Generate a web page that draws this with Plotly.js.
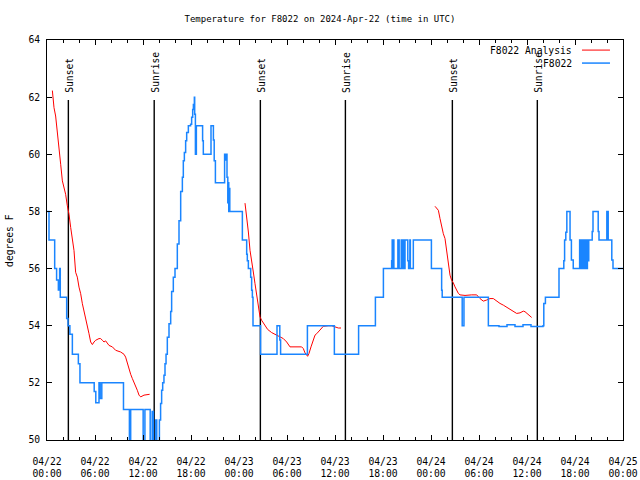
<!DOCTYPE html>
<html><head><meta charset="utf-8">
<script src="https://cdn.plot.ly/plotly-3.0.1.min.js"></script>
<style>html,body{margin:0;padding:0;background:#fff}#chart{width:640px;height:480px}</style>
</head><body><div id="chart"></div>
<script>
// Observations (hours since 2024-04-22 00:00 UTC, degrees F)
const obsHours = [0.0,0.2,0.25,0.9,0.96,1.15,1.2,1.38,1.42,1.55,1.58,1.62,1.66,2.42,2.46,2.6,2.63,2.82,2.86,3.12,3.17,3.88,3.92,4.08,4.12,5.85,5.9,6.05,6.1,6.45,6.5,6.6,6.65,6.8,6.85,9.5,9.56,10.25,10.3,10.42,10.46,11.98,12.02,12.2,12.24,12.85,12.9,13.1,13.15,13.25,13.3,13.55,13.6,13.68,13.72,13.95,14.05,14.2,14.33,14.46,14.62,14.75,14.88,15.04,15.25,15.46,15.58,15.79,16.0,16.29,16.5,16.71,16.92,17.04,17.17,17.33,17.46,17.67,17.95,18.08,18.21,18.3,18.42,18.46,18.55,18.6,18.67,19.33,19.45,19.54,20.38,20.5,20.75,20.8,20.9,21.0,21.05,22.1,22.2,22.3,22.4,22.5,22.55,22.6,22.65,22.72,22.78,22.85,24.38,24.42,24.88,24.96,25.04,25.17,25.42,25.46,25.58,25.67,25.75,26.62,26.7,28.7,28.75,28.92,29.1,29.2,32.46,32.55,35.88,35.92,38.8,38.95,41.0,41.05,41.96,42.05,43.0,43.08,43.15,43.22,43.28,43.36,43.8,43.86,43.95,44.02,44.22,44.28,44.36,44.45,44.5,44.58,44.7,44.75,45.02,45.1,45.2,45.3,45.36,45.42,45.7,45.79,48.0,48.05,49.25,49.33,49.4,51.85,51.9,52.05,52.12,55.08,55.17,56.5,57.5,58.5,59.5,60.5,62.0,62.1,62.3,63.8,64.0,64.5,64.6,64.7,64.85,64.98,65.3,65.38,65.55,65.78,66.5,66.58,66.68,66.8,66.9,67.05,67.15,67.3,67.38,67.5,67.55,67.65,67.72,68.08,68.15,68.25,68.8,68.9,69.0,69.9,69.98,70.06,70.15,70.6,70.75,72.0];
const obsTemp = [58,58,57,57,56,56,55.6,55.6,55.25,55.25,56,56,55,55,54.25,54.25,54,54,53.7,53.7,53,53,52.67,52.67,52,52,51.7,51.7,51.3,51.3,52,52,51.45,51.45,52,52,51.07,51.07,50,50,51.07,51.07,49.6,49.6,51.07,51.07,49.6,49.6,51,51,49.6,49.6,50.7,50.7,49.6,49.6,50.7,51.28,51.74,52,52.27,52.67,53,53.6,54.07,54.5,55.2,55.7,56,56.86,57.67,58.7,59.2,59.77,60.06,60.47,60.76,61,61.05,61.3,61.57,61.74,62,61.4,60,60,61,61,60.47,60,60,61,61,60.5,59.77,59.77,59,59,60,59.8,60,59.2,59.2,58.3,59,58,58.8,58,58,57,57,56.5,56.27,56,56,55.7,55.24,55,54,54,53,53,54,54,53.5,53,53,54,54,53,53,54,54,55,55,56,56,56.27,57,56,57,56,56,57,57,56,56,57,56,56,57,56,56,57,57,56.27,56,56,57,56,56,57,57,56,56,55.24,55,55,54,54,55,55,54,53.97,54.03,53.97,54.03,53.97,54,54.78,55,55,56,56,56.27,57,57.27,58,58,57,56.3,56,56,57,56,57,56,57,56,57,56,56,57,56.27,57,57,57.3,58,58,57.3,57,57,58,58,57,56.3,56,56];

// Analysis (null separates runs)
const anaHours = [0.67,0.875,1.08,1.21,1.375,1.58,1.71,1.92,2.125,2.33,2.54,2.75,2.96,3.17,3.375,3.58,3.79,4.0,4.21,4.42,4.625,4.83,5.04,5.25,5.46,5.67,5.875,6.08,6.5,6.71,6.92,7.125,7.33,7.54,7.75,8.17,8.58,9.21,9.625,9.83,10.04,10.25,10.46,10.67,10.875,11.08,11.29,11.5,11.71,12.125,12.54,12.83,
  null,
  24.75,24.96,25.17,25.375,25.58,25.79,26.0,26.21,26.42,26.625,26.83,27.25,27.58,28.08,28.71,29.125,29.54,29.96,30.375,31.0,31.83,32.04,32.25,32.58,32.75,33.0,33.29,33.5,33.71,34.125,34.54,35.17,35.58,36.0,36.42,36.75,
  null,
  48.5,48.92,49.125,49.33,49.54,49.75,49.96,50.17,50.375,50.58,50.79,51.0,51.2,51.42,51.625,52.25,53.08,53.71,54.125,54.54,54.96,55.375,55.79,56.2,56.625,57.04,57.46,57.875,58.29,58.71,59.125,59.54,59.75,60.17,60.58];
const anaTemp = [62.23,61.63,61.34,60.93,60.47,60.06,59.65,59.07,58.84,58.6,58.2,57.9,57.44,57.1,56.63,55.87,55.7,55.35,55.12,54.77,54.53,54.3,53.95,53.72,53.43,53.34,53.43,53.49,53.55,53.55,53.49,53.43,53.47,53.4,53.31,53.26,53.14,53.08,53.0,52.9,52.67,52.44,52.3,52.15,52.03,51.92,51.74,51.57,51.51,51.57,51.6,51.6,
  null,
  58.29,57.86,57.28,56.64,56.17,55.88,55.47,55.12,54.66,54.31,54.19,54.02,53.87,53.76,53.67,53.61,53.55,53.43,53.26,53.26,53.26,53.2,53.05,52.93,53.03,53.26,53.49,53.67,53.72,53.86,53.98,54.0,54.0,53.96,53.92,53.92,
  null,
  58.18,58.04,57.75,57.45,57.22,57.05,56.58,56.23,55.77,55.59,55.5,55.36,55.24,55.13,55.08,55.06,55.08,55.08,54.95,54.86,54.9,54.95,54.95,54.85,54.78,54.72,54.64,54.57,54.49,54.43,54.45,54.51,54.49,54.39,54.29];

const eventHours = [2.67, 13.4, 26.67, 37.3, 50.67, 61.29];
const eventLabels = ['Sunset','Sunrise','Sunset','Sunrise','Sunset','Sunrise'];
const xTickVals = [0,6,12,18,24,30,36,42,48,54,60,66,72];
const xTickText = ['04/22<br>00:00','04/22<br>06:00','04/22<br>12:00','04/22<br>18:00','04/23<br>00:00','04/23<br>06:00','04/23<br>12:00','04/23<br>18:00','04/24<br>00:00','04/24<br>06:00','04/24<br>12:00','04/24<br>18:00','04/25<br>00:00'];
const xMinorTicks = [2,4,8,10,14,16,20,22,26,28,32,34,38,40,44,46,50,52,56,58,62,64,68,70];
const yTickVals = [50,52,54,56,58,60,62,64];
const seriesNames = ['F8022 Analysis','F8022'];
const seriesColors = ['#ff0000','#1a85ff'];
const titleText = 'Temperature for F8022 on 2024-Apr-22 (time in UTC)';
const yTitleText = 'degrees F';

const FONT = '"DejaVu Sans Mono", "Liberation Mono", monospace';
const eventTop = 61.9;

// event lines built from eventHours
const evX = [], evY = [];
eventHours.forEach(h => { evX.push(h, h, null); evY.push(eventTop, 50, null); });

const traces = [
  {x: evX, y: evY, mode: 'lines', line: {color: '#000', width: 1.4}, hoverinfo: 'skip', showlegend: false},
  {x: anaHours, y: anaTemp, name: seriesNames[0], mode: 'lines', connectgaps: false, line: {color: seriesColors[0], width: 1}},
  {x: obsHours, y: obsTemp, name: seriesNames[1], mode: 'lines', line: {color: seriesColors[1], width: 1.5, shape: 'hv'}}
];

const annotations = eventHours.map((h, i) => ({
  x: h, y: eventTop, xref: 'x', yref: 'y', text: eventLabels[i], showarrow: false,
  textangle: -90, xanchor: 'center', yanchor: 'bottom', yshift: 5, xshift: 1,
  font: {family: FONT, size: 9.7, color: '#000'}
}));
// y-axis title
annotations.push({x: -0.064, y: 0.498, xref: 'paper', yref: 'paper', text: yTitleText, showarrow: false,
  textangle: -90, xanchor: 'center', yanchor: 'middle', font: {family: FONT, size: 9.7, color: '#000'}});
// gnuplot-style key
const keyY = [0.9738, 0.9413];
const shapes = [];
seriesNames.forEach((n, i) => {
  annotations.push({x: 0.9149, y: keyY[i], xref: 'paper', yref: 'paper', text: n, showarrow: false,
    xanchor: 'right', yanchor: 'middle', font: {family: FONT, size: 9.7, color: '#000'}});
  shapes.push({type: 'line', xref: 'paper', yref: 'paper', x0: 0.9288, x1: 0.9774, y0: keyY[i] + 0.001, y1: keyY[i] + 0.001,
    line: {color: seriesColors[i], width: i === 0 ? 1 : 1.5}});
});

const layout = {
  width: 640, height: 480,
  margin: {l: 47, r: 17, t: 40, b: 40, pad: 0},
  paper_bgcolor: '#fff', plot_bgcolor: '#fff',
  font: {family: FONT, size: 9.7, color: '#000'},
  title: {text: titleText, x: 0.5, xref: 'container', xanchor: 'center', y: 1 - 19/480, yref: 'container', yanchor: 'middle',
    font: {family: FONT, size: 9, color: '#000'}},
  showlegend: false,
  xaxis: {range: [0, 72], tickmode: 'array', tickvals: xTickVals, ticktext: xTickText,
    ticks: 'inside', ticklen: 5, tickwidth: 1, tickcolor: '#000', showline: true, linecolor: '#000', linewidth: 1,
    mirror: 'allticks', showgrid: false, zeroline: false, ticklabelstandoff: 12, fixedrange: true,
    minor: {tickmode: 'array', tickvals: xMinorTicks, ticks: 'inside', ticklen: 3, tickwidth: 1, tickcolor: '#000', showgrid: false},
    tickfont: {family: FONT, size: 9.7, color: '#000'}},
  yaxis: {range: [50, 64], tickmode: 'array', tickvals: yTickVals,
    ticks: 'inside', ticklen: 5, tickwidth: 1, tickcolor: '#000', showline: true, linecolor: '#000', linewidth: 1,
    mirror: 'allticks', showgrid: false, zeroline: false, ticklabelstandoff: 4, fixedrange: true,
    tickfont: {family: FONT, size: 9.7, color: '#000'}},
  annotations: annotations,
  shapes: shapes
};

Plotly.newPlot('chart', traces, layout, {staticPlot: true, displayModeBar: false});
</script>
</body></html>
